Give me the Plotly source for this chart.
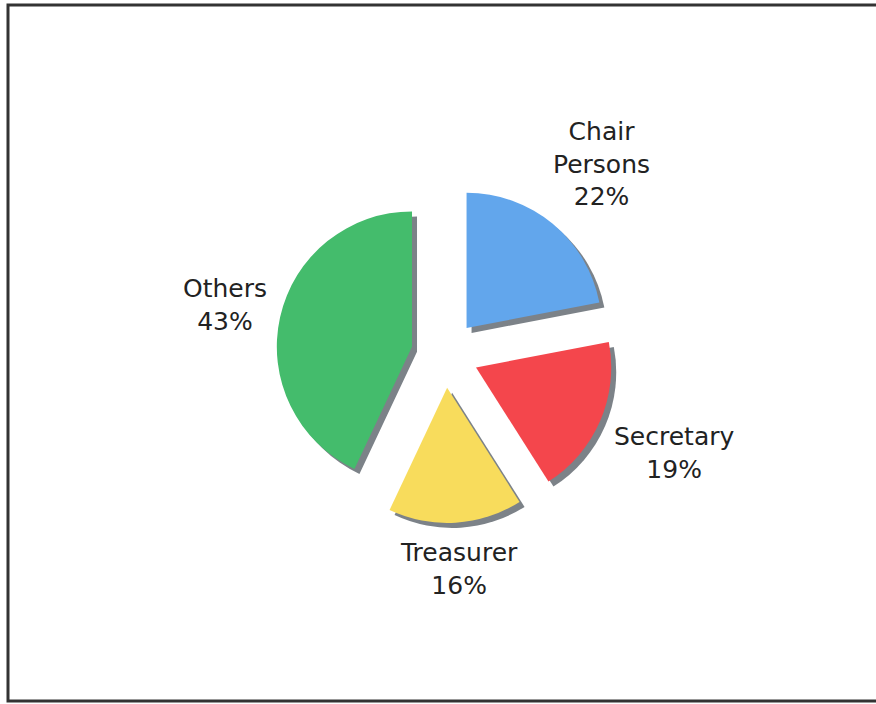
import math
import plotly.graph_objects as go

# Share of roles
labels = ["Chair Persons", "Secretary", "Treasurer", "Others"]
label_lines = [["Chair", "Persons"], ["Secretary"], ["Treasurer"], ["Others"]]
values = [22, 19, 16, 43]
colors = ["#62A6EC", "#F4464C", "#F8DC5C", "#44BC6C"]
pull = [0.25, 0.25, 0.25, 0.25]

W, H = 876, 704
cx, cy = 445, 354          # pie centre in pixels (from top-left)
half = 169                 # half-size of the pie domain in pixels
shadow_dx, shadow_dy = 5, 5
font_size = 25
label_gap = 14
font = dict(family="DejaVu Sans, Verdana, sans-serif", size=font_size, color="#222222")


def domain(dx=0, dy=0):
    x0 = (cx + dx - half) / W
    x1 = (cx + dx + half) / W
    y0 = (H - (cy + dy) - half) / H
    y1 = (H - (cy + dy) + half) / H
    return dict(x=[x0, x1], y=[y0, y1])


fig = go.Figure()

# drop shadow under each slice
fig.add_trace(go.Pie(
    labels=labels, values=values, sort=False, direction="clockwise",
    pull=pull, domain=domain(shadow_dx, shadow_dy),
    marker=dict(colors=["#7C8288"] * 4, line=dict(width=0)),
    textinfo="none", hoverinfo="skip", showlegend=False,
))

fig.add_trace(go.Pie(
    labels=labels, values=values, sort=False, direction="clockwise",
    pull=pull, domain=domain(),
    marker=dict(colors=colors, line=dict(width=0)),
    textinfo="none", showlegend=False,
))

# category labels placed outside each exploded slice, along its bisector
total = sum(values)
radius = half / (1 + max(pull))
annotations = []
start = 0.0
for lines, v, p in zip(label_lines, values, pull):
    frac = v / total
    mid = (start + frac / 2) * 2 * math.pi
    start += frac
    sx, sy = math.sin(mid), -math.cos(mid)
    pct = f"{round(100 * frac)}%"
    rows = lines + [pct]
    hw = 0.55 * font_size * max(len(r) for r in rows) / 2
    hh = 1.3 * font_size * len(rows) / 2
    reach = min(hw / abs(sx) if abs(sx) > 1e-6 else 1e9,
                hh / abs(sy) if abs(sy) > 1e-6 else 1e9)
    dist = radius * (1 + p) + label_gap + reach
    px, py = cx + dist * sx, cy + dist * sy
    annotations.append(dict(
        x=px / W, y=1 - py / H, xref="paper", yref="paper",
        text="<br>".join(rows), showarrow=False, align="center",
        xanchor="center", yanchor="middle", font=font,
    ))

fig.update_layout(
    width=W, height=H,
    margin=dict(l=0, r=0, t=0, b=0),
    paper_bgcolor="white",
    plot_bgcolor="white",
    annotations=annotations,
    shapes=[dict(
        type="rect", xref="paper", yref="paper",
        x0=8 / W, x1=(W + 10) / W, y0=(H - 701) / H, y1=(H - 5) / H,
        line=dict(color="#333333", width=3), fillcolor="rgba(0,0,0,0)",
        layer="above",
    )],
)

fig.write_html("out.html")
